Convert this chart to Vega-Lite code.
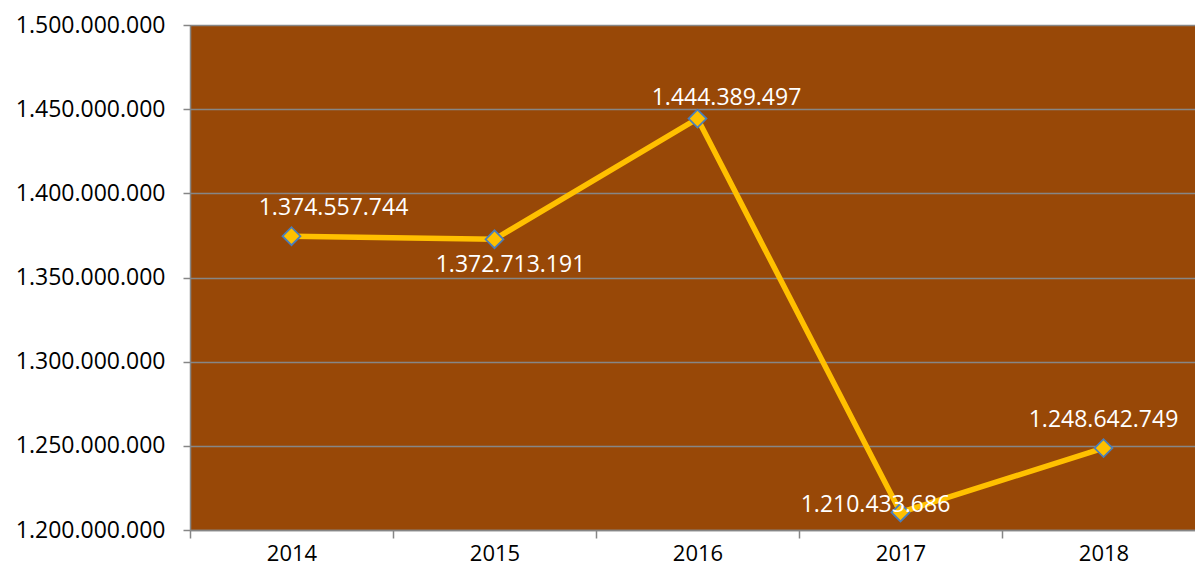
{
  "$schema": "https://vega.github.io/schema/vega-lite/v6.json",
  "width": 1005,
  "height": 505,
  "autosize": {"type": "none"},
  "padding": {"left": 190, "top": 25, "right": 0, "bottom": 43},
  "background": "#ffffff",
  "config": {
    "locale": {"number": {"decimal": ",", "thousands": ".", "grouping": [3], "currency": ["", ""]}},
    "view": {"fill": "#984807", "stroke": null},
    "font": "Open Sans"
  },
  "data": {
    "values": [
      {"year": "2014", "value": 1374557744},
      {"year": "2015", "value": 1372713191},
      {"year": "2016", "value": 1444389497},
      {"year": "2017", "value": 1210433686},
      {"year": "2018", "value": 1248642749}
    ]
  },
  "encoding": {
    "x": {
      "field": "year", "type": "ordinal", "bandPosition": 0.5,
      "scale": {"type": "band", "paddingInner": 0, "paddingOuter": 0, "range": [0, 1015]},
      "axis": {
        "title": null, "labelAngle": 0, "grid": false, "tickBand": "extent",
        "domainColor": "#868686", "domainWidth": 1.5, "tickColor": "#868686", "tickWidth": 1.5, "tickSize": 8,
        "labelFont": "Open Sans", "labelFontSize": 22, "labelColor": "#000000", "labelPadding": 5
      }
    },
    "y": {
      "field": "value", "type": "quantitative",
      "scale": {"domain": [1200000000, 1500000000], "nice": false, "zero": false},
      "axis": {
        "title": null, "format": ",d", "values": [1200000000, 1250000000, 1300000000, 1350000000, 1400000000, 1450000000, 1500000000],
        "grid": true, "gridColor": "#868686", "gridWidth": 1.5,
        "domainColor": "#868686", "domainWidth": 1.5, "tickColor": "#868686", "tickWidth": 1.5, "tickSize": 7,
        "labelFont": "Open Sans", "labelFontSize": 23, "labelColor": "#000000", "labelPadding": 18
      }
    }
  },
  "layer": [
    {"mark": {"type": "line", "color": "#FFC000", "strokeWidth": 5.5}},
    {"mark": {"type": "point", "shape": "diamond", "filled": true, "fill": "#FFC000", "stroke": "#4A7EBB", "strokeWidth": 1.8, "size": 320, "opacity": 1}},
    {"transform": [{"filter": "datum.year == '2014'"}], "mark": {"type": "text", "color": "#ffffff", "fontSize": 23, "dx": 42, "dy": -28}, "encoding": {"text": {"field": "value", "type": "quantitative", "format": ",d"}}},
    {"transform": [{"filter": "datum.year == '2015'"}], "mark": {"type": "text", "color": "#ffffff", "fontSize": 23, "dx": 16, "dy": 26}, "encoding": {"text": {"field": "value", "type": "quantitative", "format": ",d"}}},
    {"transform": [{"filter": "datum.year == '2016'"}], "mark": {"type": "text", "color": "#ffffff", "fontSize": 23, "dx": 29, "dy": -21}, "encoding": {"text": {"field": "value", "type": "quantitative", "format": ",d"}}},
    {"transform": [{"filter": "datum.year == '2017'"}], "mark": {"type": "text", "color": "#ffffff", "fontSize": 23, "dx": -25, "dy": -7}, "encoding": {"text": {"field": "value", "type": "quantitative", "format": ",d"}}},
    {"transform": [{"filter": "datum.year == '2018'"}], "mark": {"type": "text", "color": "#ffffff", "fontSize": 23, "dx": 0, "dy": -28}, "encoding": {"text": {"field": "value", "type": "quantitative", "format": ",d"}}}
  ]
}
